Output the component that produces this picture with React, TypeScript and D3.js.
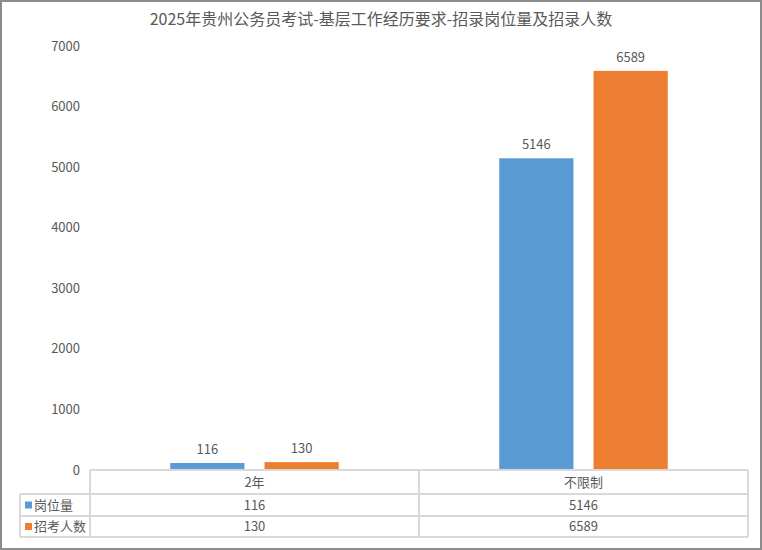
import * as d3 from 'd3';

// chart data
const categories = ['2年', '不限制'];
const seriesNames = ['岗位量', '招考人数'];
const positions = [116, 5146];
const applicants = [130, 6589];
const yTicks = [0, 1000, 2000, 3000, 4000, 5000, 6000, 7000];

const colors = ['#5b9bd5', '#ed7d31'];
const textColor = '#595959';
const gridColor = '#d9d9d9';
const font = '"Noto Sans CJK SC", "Microsoft YaHei", sans-serif';

const width = 762;
const height = 550;

export default function App() {
  const series = [positions, applicants];

  const y = d3.scaleLinear().domain([0, 7000]).range([470, 46]);
  const x = d3.scaleBand<string>().domain(categories).range([90, 748]);
  const xInner = d3
    .scaleBand<string>()
    .domain(seriesNames)
    .range([0, x.bandwidth()])
    .paddingInner(0.2128)
    .paddingOuter(0.851);

  // data table rows
  const rowTop = [470, 494, 516, 537];
  const tableLeft = 20;

  return (
    <svg
      width={width}
      height={height}
      style={{ position: 'absolute', left: 0, top: 0, fontFamily: font }}
    >
      <rect x={0} y={0} width={width} height={height} fill="#fff" />
      <rect x={1} y={1} width={width - 2} height={height - 2} fill="none" stroke="#8c8c8c" strokeWidth={2} />

      {/* title */}
      <text x={381} y={25} textAnchor="middle" fontSize={16} fill={textColor}>
        2025年贵州公务员考试-基层工作经历要求-招录岗位量及招录人数
      </text>

      {/* y axis labels */}
      {yTicks.map((t) => (
        <text key={t} x={80} y={y(t)} dy="0.35em" textAnchor="end" fontSize={13} fill={textColor}>
          {t}
        </text>
      ))}

      {/* bars */}
      {categories.map((c, ci) => (
        <g key={c} transform={`translate(${x(c)},0)`}>
          {seriesNames.map((s, si) => {
            const v = series[si][ci];
            const bx = xInner(s) ?? 0;
            return (
              <g key={s}>
                <rect x={bx} y={y(v)} width={xInner.bandwidth()} height={y(0) - y(v)} fill={colors[si]} />
                <text
                  x={bx + xInner.bandwidth() / 2}
                  y={y(v) - 9}
                  textAnchor="middle"
                  fontSize={13}
                  fill={textColor}
                >
                  {v}
                </text>
              </g>
            );
          })}
        </g>
      ))}

      {/* data table */}
      <g stroke={gridColor} strokeWidth={2} fill="none">
        <line x1={90} x2={748} y1={rowTop[0]} y2={rowTop[0]} />
        {rowTop.slice(1).map((r) => (
          <line key={r} x1={tableLeft} x2={748} y1={r} y2={r} />
        ))}
        <line x1={tableLeft} x2={tableLeft} y1={rowTop[1]} y2={rowTop[3]} />
        <line x1={90} x2={90} y1={rowTop[0]} y2={rowTop[3]} />
        {categories.map((c) => (
          <line key={c} x1={(x(c) ?? 0) + x.bandwidth()} x2={(x(c) ?? 0) + x.bandwidth()} y1={rowTop[0]} y2={rowTop[3]} />
        ))}
      </g>
      {categories.map((c, ci) => {
        const cx = (x(c) ?? 0) + x.bandwidth() / 2;
        return (
          <g key={c} fontSize={13} fill={textColor} textAnchor="middle">
            <text x={cx} y={(rowTop[0] + rowTop[1]) / 2} dy="0.35em">
              {c}
            </text>
            {series.map((vals, si) => (
              <text key={si} x={cx} y={(rowTop[si + 1] + rowTop[si + 2]) / 2} dy="0.35em">
                {vals[ci]}
              </text>
            ))}
          </g>
        );
      })}
      {seriesNames.map((s, si) => {
        const my = (rowTop[si + 1] + rowTop[si + 2]) / 2;
        return (
          <g key={s}>
            <rect x={25} y={my - 3.5} width={7} height={7} fill={colors[si]} />
            <text x={34} y={my} dy="0.35em" fontSize={13} fill={textColor}>
              {s}
            </text>
          </g>
        );
      })}
    </svg>
  );
}
